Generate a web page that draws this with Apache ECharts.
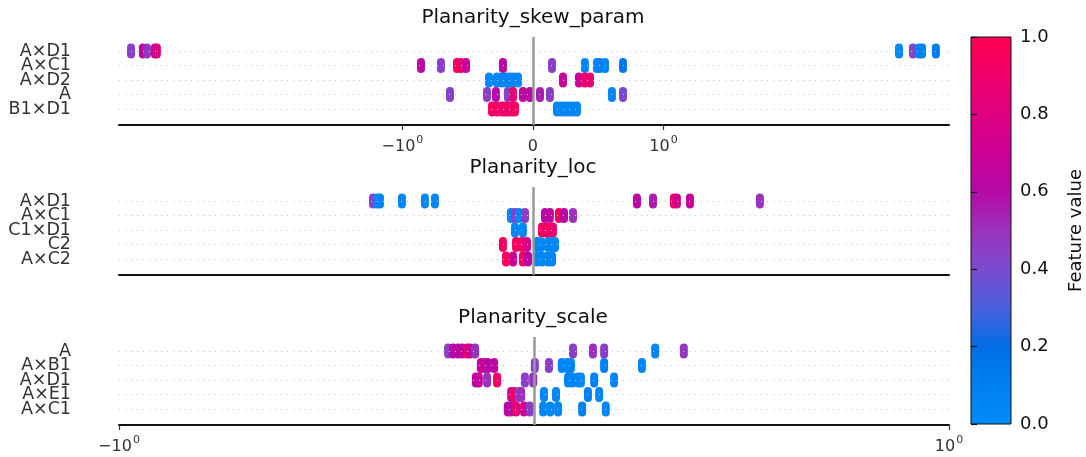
<!DOCTYPE html>
<html>
<head>
<meta charset="utf-8">
<script src="https://cdn.jsdelivr.net/npm/echarts@6/dist/echarts.min.js"></script>
<style>
html,body{margin:0;padding:0;background:#fff}
#chart{width:1086px;height:457px}
</style>
</head>
<body>
<div id="chart"></div>
<script>
// Feature names, SHAP values and feature values for each output panel
const skewFeatures = ['A×D1', 'A×C1', 'A×D2', 'A', 'B1×D1'];
const skewShap = [
  [-7.96, -7.09, -6.81, -6.30, -6.18, 5.60, 6.42, 6.81, 7.02, 8.04],
  [-0.858, -0.705, -0.582, -0.552, -0.513, -0.230, 0.146, 0.398, 0.490, 0.513, 0.552, 0.690],
  [-0.337, -0.276, -0.238, -0.207, -0.176, -0.146, -0.115, 0.230, 0.352, 0.398, 0.437],
  [-0.636, -0.352, -0.284, -0.192, -0.153, -0.077, -0.023, 0.054, 0.130, 0.605, 0.690],
  [-0.314, -0.276, -0.238, -0.215, -0.192, -0.161, -0.138, 0.184, 0.215, 0.245, 0.276, 0.307, 0.337]
];
const skewValue = [
  [0.45, 0.62, 0.48, 0.65, 0.80, 0.02, 0.42, 0.05, 0.08, 0.12],
  [0.62, 0.45, 0.95, 0.90, 0.65, 0.62, 0.45, 0.05, 0.05, 0.10, 0.05, 0.15],
  [0.05, 0.05, 0.08, 0.05, 0.05, 0.05, 0.05, 0.65, 0.70, 0.90, 0.85],
  [0.45, 0.45, 0.60, 0.45, 0.85, 0.62, 0.62, 0.55, 0.45, 0.05, 0.40],
  [0.95, 0.90, 0.95, 0.80, 0.95, 0.90, 0.95, 0.05, 0.05, 0.05, 0.05, 0.05, 0.05]
];

const locFeatures = ['A×D1', 'A×C1', 'C1×D1', 'C2', 'A×C2'];
const locShap = [
  [-1.226, -1.195, -1.172, -1.004, -0.828, -0.751, 0.797, 0.920, 1.080, 1.103, 1.203, 1.739],
  [-0.169, -0.138, -0.107, -0.061, 0.092, 0.130, 0.199, 0.238, 0.307],
  [-0.138, -0.077, 0.069, 0.100, 0.130, 0.153],
  [-0.230, -0.130, -0.084, -0.046, 0.031, 0.061, 0.115, 0.146, 0.169],
  [-0.207, -0.153, -0.077, -0.038, 0.031, 0.069, 0.115, 0.146]
];
const locValue = [
  [0.45, 0.05, 0.05, 0.05, 0.05, 0.05, 0.62, 0.55, 0.90, 0.75, 0.65, 0.50],
  [0.05, 0.45, 0.05, 0.45, 0.62, 0.62, 0.95, 0.62, 0.50],
  [0.05, 0.05, 0.95, 0.90, 0.95, 0.90],
  [0.95, 0.95, 0.90, 0.75, 0.05, 0.05, 0.05, 0.05, 0.05],
  [0.95, 0.70, 0.95, 0.60, 0.05, 0.05, 0.05, 0.05]
];

const scaleFeatures = ['A', 'A×B1', 'A×D1', 'A×E1', 'A×C1'];
const scaleShap = [
  [-0.207, -0.195, -0.183, -0.173, -0.161, -0.154, -0.142, 0.094, 0.142, 0.169, 0.292, 0.361],
  [-0.128, -0.120, -0.111, -0.096, 0.002, 0.036, 0.067, 0.080, 0.089, 0.169, 0.260],
  [-0.140, -0.133, -0.113, -0.089, -0.022, -0.002, 0.082, 0.092, 0.106, 0.113, 0.145, 0.193],
  [-0.055, -0.048, -0.036, -0.031, 0.024, 0.053, 0.130, 0.157],
  [-0.063, -0.055, -0.043, -0.024, -0.010, 0.022, 0.039, 0.058, 0.116, 0.173]
];
const scaleValue = [
  [0.45, 0.60, 0.62, 0.65, 0.85, 0.70, 0.50, 0.45, 0.50, 0.45, 0.05, 0.48],
  [0.65, 0.70, 0.60, 0.62, 0.45, 0.45, 0.05, 0.05, 0.05, 0.10, 0.05],
  [0.62, 0.65, 0.50, 0.90, 0.45, 0.50, 0.05, 0.05, 0.05, 0.05, 0.10, 0.05],
  [0.70, 0.90, 0.45, 0.50, 0.05, 0.05, 0.10, 0.05],
  [0.62, 0.60, 0.85, 0.70, 0.45, 0.05, 0.05, 0.05, 0.10, 0.05]
];

// Colour map: low feature value (blue) -> high feature value (red)
const cmapColors = ['#008bfb', '#0080f2', '#006ee6', '#4a5fdc', '#7a4bd0', '#9a32bc',
                    '#b60aa6', '#cc0094', '#df0080', '#ef006a', '#ff0052'];
const colorbarTicks = [0, 0.2, 0.4, 0.6, 0.8, 1.0];

// Symmetric log transform (linthresh 2, linscale 1, base 10), normalised so |1| -> 1
function symlog(x) {
  const a = Math.abs(x);
  return a <= 2 ? x : Math.sign(x) * (2 + 1.8 * Math.log10(a / 2));
}

const FONT = 'DejaVu Sans';
const panels = [
  { title: 'Planarity_skew_param', features: skewFeatures, shap: skewShap, value: skewValue,
    top: 37, range: [-3.172, 3.188], ticks: [-1, 0, 1] },
  { title: 'Planarity_loc', features: locFeatures, shap: locShap, value: locValue,
    top: 187, range: [-3.172, 3.188], ticks: [] },
  { title: 'Planarity_scale', features: scaleFeatures, shap: scaleShap, value: scaleValue,
    top: 337, range: [-1, 1], ticks: [-1, 1] }
];

const capsule = 'path://M0,4A4,4,0,0,1,8,4L8,11A4,4,0,0,1,0,11Z';
const grids = [], xAxes = [], yAxes = [], series = [], titles = [], pointSeries = [];

// Row-label axis; even and odd rows go on two stacked axes so that close labels all stay visible
function rowAxis(k, p, rows) {
  return {
    type: 'value', gridIndex: k, inverse: true, min: -0.966, max: 5.1, position: 'left', offset: 0,
    axisLine: { show: false }, axisTick: { show: false }, splitLine: { show: false },
    axisLabel: {
      customValues: rows, interval: 0, margin: 48, color: '#333', fontFamily: FONT, fontSize: 17.5,
      showMinLabel: true, showMaxLabel: true, hideOverlap: false,
      formatter: v => p.features[Math.round(v)] || ''
    }
  };
}

panels.forEach((p, k) => {
  grids.push({ left: 119, width: 830, top: p.top, height: 88 });
  titles.push({
    text: p.title, left: 533, top: p.top - 29, textAlign: 'center', padding: 0,
    textStyle: { fontFamily: FONT, fontSize: 20, fontWeight: 'normal', color: '#111' }
  });
  const tickU = p.ticks.map(symlog);
  xAxes.push({
    type: 'value', gridIndex: k, min: p.range[0], max: p.range[1],
    axisLine: { show: true, onZero: false, lineStyle: { color: '#111', width: 2 } },
    axisTick: { show: tickU.length > 0, customValues: tickU, length: 5, lineStyle: { color: '#333', width: 1.2 } },
    axisLabel: {
      show: tickU.length > 0, customValues: tickU, margin: 10, color: '#333', interval: 0,
      fontFamily: FONT, showMinLabel: true, showMaxLabel: true, hideOverlap: false,
      formatter: v => v < 0 ? '{m|−10}{s|0}' : (v > 0 ? '{m|10}{s|0}' : '{m|0}'),
      rich: {
        m: { fontFamily: FONT, fontSize: 16, color: '#333', lineHeight: 20, verticalAlign: 'bottom' },
        s: { fontFamily: FONT, fontSize: 11, color: '#333', lineHeight: 20, verticalAlign: 'top', padding: [0, 0, 0, 1] }
      }
    },
    splitLine: { show: false }
  });
  const yIndex = yAxes.length;
  yAxes.push(rowAxis(k, p, [0, 2, 4]));
  yAxes.push(rowAxis(k, p, [1, 3]));
  // guide lines: dotted row lines and the zero line
  series.push({
    type: 'scatter', xAxisIndex: k, yAxisIndex: yIndex, data: [], z: 1, silent: true,
    markLine: {
      silent: true, symbol: 'none', animation: false, label: { show: false },
      data: [0, 1, 2, 3, 4].map(i => ({ yAxis: i, lineStyle: { color: '#c8c8c8', width: 1, type: [1, 5] } }))
        .concat([{ xAxis: 0, lineStyle: { color: '#999999', width: 2.5, type: 'solid' } }])
    }
  });
  const data = [];
  p.shap.forEach((row, i) => row.forEach((s, j) => data.push([symlog(s), i, p.value[i][j]])));
  pointSeries.push(series.length);
  series.push({
    type: 'scatter', xAxisIndex: k, yAxisIndex: yIndex, z: 3, data,
    symbol: capsule, symbolSize: [8, 15], itemStyle: { opacity: 1 }, animation: false
  });
});

// Colour bar
grids.push({
  left: 971, width: 41, top: 37, height: 387, show: true, borderColor: '#111', borderWidth: 1,
  backgroundColor: new echarts.graphic.LinearGradient(0, 1, 0, 0,
    cmapColors.map((c, i) => ({ offset: i / (cmapColors.length - 1), color: c })))
});
xAxes.push({ type: 'value', gridIndex: 3, show: false, min: 0, max: 1 });
yAxes.push({
  type: 'value', gridIndex: 3, position: 'right', min: 0, max: 1,
  axisLine: { show: false }, splitLine: { show: false },
  axisTick: { show: true, customValues: colorbarTicks, length: 6, lineStyle: { color: '#111', width: 1.2 } },
  axisLabel: { customValues: colorbarTicks, interval: 0, margin: 9, color: '#111', fontFamily: FONT, fontSize: 18,
    showMinLabel: true, showMaxLabel: true, formatter: v => v.toFixed(1) },
  name: 'Feature value', nameLocation: 'middle', nameRotate: 90, nameGap: 56,
  nameTextStyle: { fontFamily: FONT, fontSize: 18, color: '#111' }
});

const chart = echarts.init(document.getElementById('chart'), null, { renderer: 'canvas' });
chart.setOption({
  backgroundColor: '#fff',
  animation: false,
  title: titles,
  grid: grids,
  xAxis: xAxes,
  yAxis: yAxes,
  visualMap: {
    show: false, type: 'continuous', min: 0, max: 1, dimension: 2,
    seriesIndex: pointSeries, inRange: { color: cmapColors }
  },
  series
});
</script>
</body>
</html>
